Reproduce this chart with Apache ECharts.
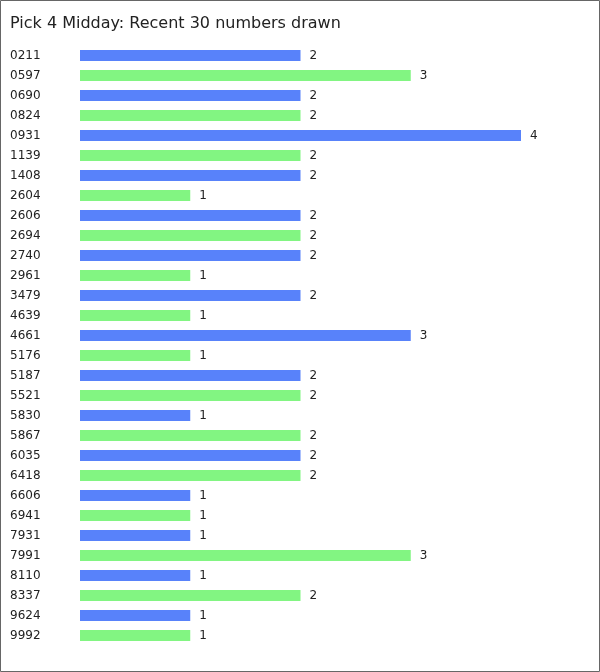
<!DOCTYPE html>
<html><head><meta charset="utf-8">
<script src="https://cdn.jsdelivr.net/npm/echarts@6/dist/echarts.min.js"></script>
<style>html,body{margin:0;padding:0;background:#fff}#c{width:600px;height:672px}</style>
</head><body><div id="c"></div>
<script>
const categories = ["0211","0597","0690","0824","0931","1139","1408","2604","2606","2694","2740","2961","3479","4639","4661","5176","5187","5521","5830","5867","6035","6418","6606","6941","7931","7991","8110","8337","9624","9992"];
const counts = [2,3,2,2,4,2,2,1,2,2,2,1,2,1,3,1,2,2,1,2,2,2,1,1,1,3,1,2,1,1];
const colors = ["#5882FA","#82F582"];
const chart = echarts.init(document.getElementById('c'), null, {renderer:'canvas'});
chart.setOption({
  animation:false,
  textStyle:{fontFamily:'DejaVu Sans'},
  title:{text:'Pick 4 Midday: Recent 30 numbers drawn',left:10,top:16,padding:0,textStyle:{fontFamily:'DejaVu Sans',fontSize:16,fontWeight:'normal',color:'#222'}},
  graphic:[{type:'rect',shape:{x:0.5,y:0.5,width:599,height:671},style:{fill:'none',stroke:'#666',lineWidth:1},silent:true}],
  grid:{left:80,top:45.5,width:441,height:600,containLabel:false},
  xAxis:{type:'value',min:0,max:4,show:false},
  yAxis:{type:'category',data:categories,inverse:true,axisLine:{show:false},axisTick:{show:false},
    axisLabel:{align:'left',margin:70,color:'#222',fontSize:12,fontFamily:'DejaVu Sans'}},
  series:[{type:'bar',barWidth:11,
    data:counts.map((v,i)=>({value:v,itemStyle:{color:colors[i%2]}})),
    label:{show:true,position:'right',distance:9,color:'#222',fontSize:12,fontFamily:'DejaVu Sans'}}]
});
</script></body></html>
